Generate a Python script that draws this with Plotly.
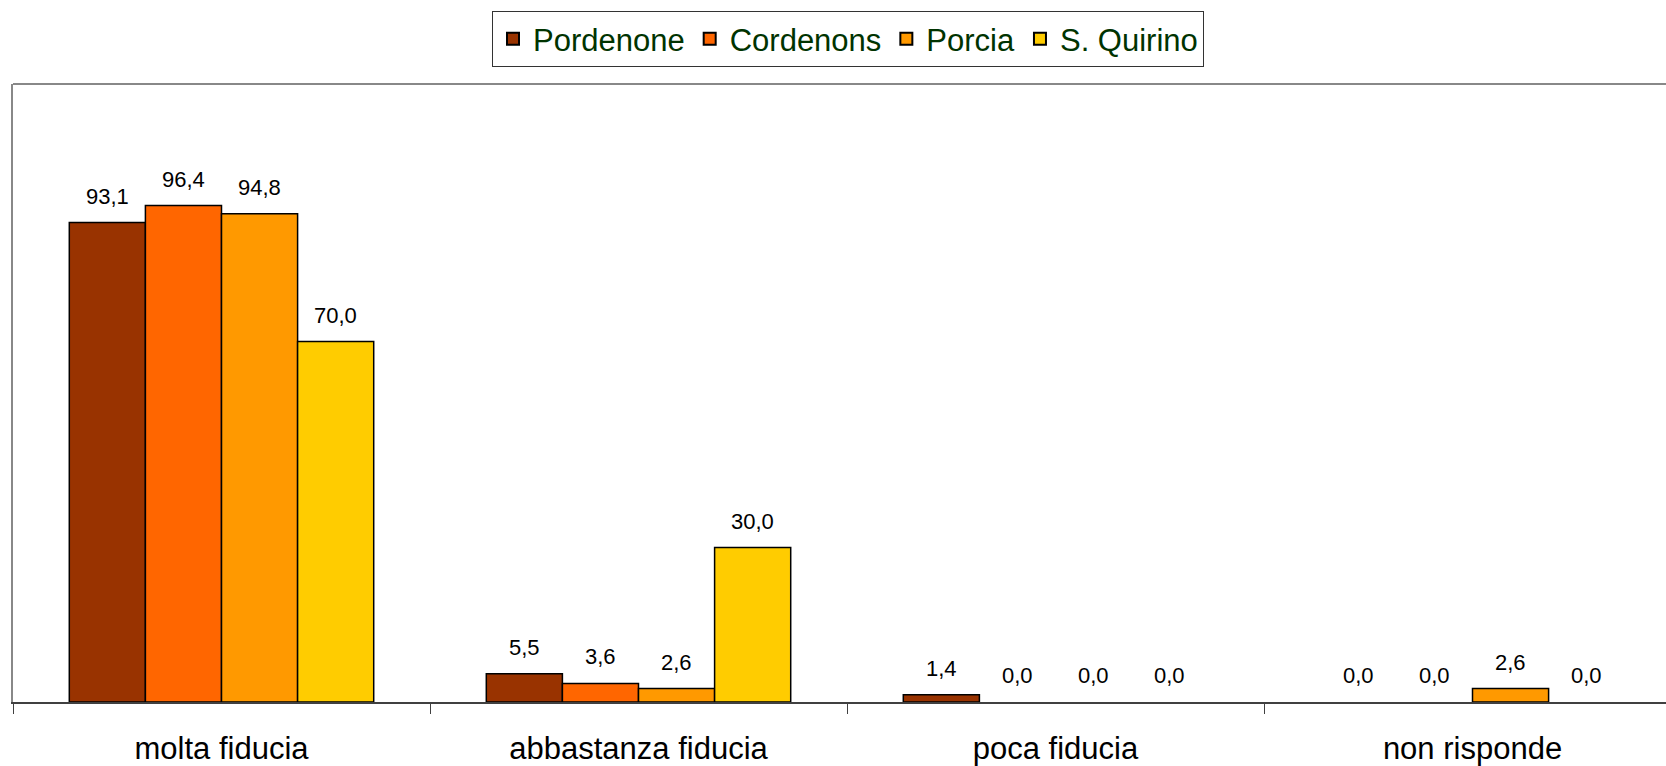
import plotly.graph_objects as go

categories = ["molta fiducia", "abbastanza fiducia", "poca fiducia", "non risponde"]
series_names = ["Pordenone", "Cordenons", "Porcia", "S. Quirino"]
pordenone = [93.1, 5.5, 1.4, 0.0]
cordenons = [96.4, 3.6, 0.0, 0.0]
porcia = [94.8, 2.6, 0.0, 2.6]
s_quirino = [70.0, 30.0, 0.0, 0.0]
series_values = [pordenone, cordenons, porcia, s_quirino]
colors = ["#993300", "#FF6600", "#FF9900", "#FFCC00"]

FONT = "Liberation Sans, Arial, sans-serif"
BARGAP = 0.27

fig = go.Figure()
for name, vals, col in zip(series_names, series_values, colors):
    fig.add_trace(go.Bar(
        name=name, x=categories, y=vals,
        marker=dict(color=col,
                    line=dict(color="black", width=[1.5 if v > 0 else 0 for v in vals])),
    ))

# value labels above each bar
n = len(series_names)
w = (1 - BARGAP) / n
annotations = []
for j, vals in enumerate(series_values):
    for i, v in enumerate(vals):
        annotations.append(dict(
            x=i + (j - (n - 1) / 2) * w, y=v, xref="x", yref="y",
            text=f"{v:.1f}".replace(".", ","), showarrow=False,
            yanchor="bottom", xanchor="center", yshift=12,
            font=dict(family=FONT, size=22, color="black"),
        ))

W, H = 1666, 766
ml, mt, mb = 13, 84, 64
cat_px = 417
plot_w = W - ml
plot_h = H - mt - mb
span = plot_w / cat_px

fig.update_layout(
    width=W, height=H,
    margin=dict(l=ml, r=0, t=mt, b=mb, autoexpand=False),
    paper_bgcolor="white", plot_bgcolor="white",
    barmode="group", bargap=BARGAP, bargroupgap=0,
    separators=",.",
    font=dict(family=FONT, color="black"),
    showlegend=True,
    legend=dict(
        orientation="h", x=(848 - ml) / plot_w, xanchor="center",
        y=(H - mb - 11) / plot_h, yanchor="top",
        font=dict(family=FONT, size=31, color="#003300"),
        bordercolor="#333333", borderwidth=1, bgcolor="white",
        itemsizing="constant",
    ),
    xaxis=dict(
        range=[-0.5, -0.5 + span], showgrid=False, zeroline=False,
        showline=True, linecolor="#404040", linewidth=1.5,
        ticks="outside", tickson="boundaries", ticklen=10, tickcolor="#404040",
        ticklabelstandoff=18,
        tickfont=dict(family=FONT, size=31, color="black"),
    ),
    yaxis=dict(
        range=[0, 120], showgrid=False, zeroline=False, showticklabels=False,
        showline=True, linecolor="#888888", linewidth=1.5, ticks="",
    ),
    annotations=annotations,
    shapes=[dict(type="line", xref="paper", yref="paper", x0=0, x1=1, y0=1, y1=1,
                 line=dict(color="#888888", width=2))],
)

fig.write_html("out.html", config={"displayModeBar": False},
               post_script="document.body.style.margin='0';")
